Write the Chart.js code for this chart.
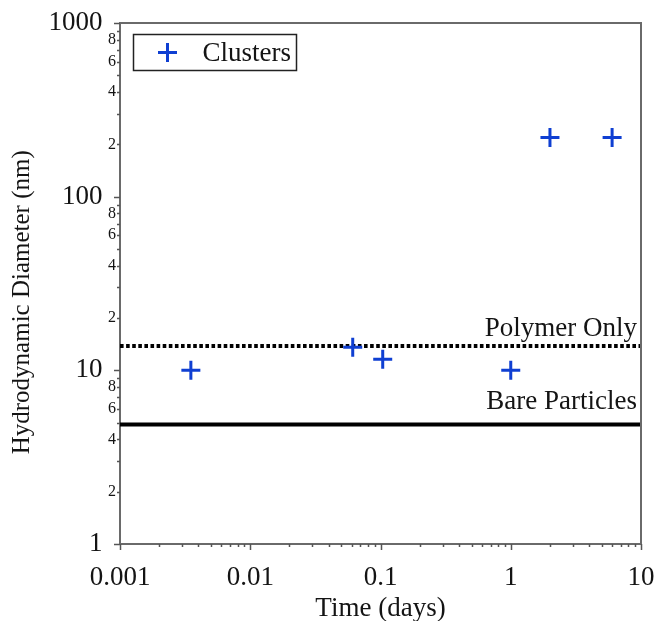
<!DOCTYPE html>
<html><head><meta charset="utf-8">
<script src="https://cdn.jsdelivr.net/npm/chart.js@4.4.0/dist/chart.umd.min.js"></script>
<style>html,body{margin:0;padding:0;background:#fff}#wrap{width:656px;height:621px}</style>
</head><body><div id="wrap"><canvas id="c" width="656" height="621"></canvas></div>
<script>
// ---- data ----
const seriesName = 'Clusters';
const timeDays = [0.0035, 0.0612, 0.104, 1.0, 2.0, 6.0];
const diameterNm = [10, 13.6, 11.6, 10, 219, 219];
const refLabels = ['Polymer Only', 'Bare Particles'];
const refValues = [13.8, 4.87];
const xRange = [0.001, 10];
const yRange = [1, 1000];
const xMajorTicks = [0.001, 0.01, 0.1, 1, 10];
const yMajorTicks = [1, 10, 100, 1000];
const yMinorLabelled = [2, 4, 6, 8];

const SERIF = "'Liberation Serif', 'Times New Roman', serif";
const BLUE = '#0f3fd2';
const TXT = '#141414';
const AXIS = '#6a6a6a';

function logTicks(min, max) {
  const out = [];
  for (let e = Math.round(Math.log10(min)); e <= Math.round(Math.log10(max)); e++) {
    for (let m = 1; m <= 9; m++) {
      const v = Number((m * Math.pow(10, e)).toPrecision(6));
      if (v >= min - 1e-12 && v <= max + 1e-12) out.push({value: v, mant: m});
    }
  }
  return out;
}
const mantissa = v => Math.round(v / Math.pow(10, Math.floor(Math.log10(v) + 1e-9)));
const isMajor = v => mantissa(v) === 1;

const refLinePlugin = {
  id: 'extras',
  afterDraw(chart) {
    const ctx = chart.ctx, a = chart.chartArea;
    const xs = chart.scales.x, ys = chart.scales.y;
    ctx.save();
    // frame top/right
    ctx.strokeStyle = AXIS; ctx.lineWidth = 2;
    ctx.beginPath();
    ctx.moveTo(a.left, a.top); ctx.lineTo(a.right, a.top); ctx.lineTo(a.right, a.bottom);
    ctx.stroke();
    // tick marks
    ctx.strokeStyle = '#555'; ctx.lineWidth = 1.5;
    ctx.beginPath();
    ys.ticks.forEach(t => {
      const p = Math.round(ys.getPixelForValue(t.value)) + 0.5;
      const len = isMajor(t.value) ? 6 : 3;
      ctx.moveTo(a.left - len, p); ctx.lineTo(a.left, p);
    });
    xs.ticks.forEach(t => {
      const p = Math.round(xs.getPixelForValue(t.value)) + 0.5;
      const len = isMajor(t.value) ? 6 : 3;
      ctx.moveTo(p, a.bottom); ctx.lineTo(p, a.bottom + len);
    });
    ctx.stroke();
    // reference line labels
    ctx.fillStyle = TXT;
    ctx.font = '27px ' + SERIF;
    ctx.textAlign = 'right';
    ctx.textBaseline = 'alphabetic';
    const offs = [10, 16];
    refLabels.forEach((lab, i) => {
      ctx.fillText(lab, a.right - 4, ys.getPixelForValue(refValues[i]) - offs[i]);
    });
    // legend
    const bx = a.left + 13.5, by = a.top + 11.5, bw = 163, bh = 36;
    ctx.strokeStyle = '#222'; ctx.lineWidth = 1.5;
    ctx.strokeRect(bx, by, bw, bh);
    const ds = chart.data.datasets[0];
    ctx.strokeStyle = ds.borderColor; ctx.fillStyle = ds.borderColor;
    ctx.lineWidth = 3;
    Chart.helpers.drawPoint(ctx, {pointStyle: 'cross', radius: 9.5, rotation: 0, borderWidth: 3}, bx + 34, by + bh / 2);
    ctx.fillStyle = TXT;
    ctx.textAlign = 'left'; ctx.textBaseline = 'middle';
    ctx.fillText(ds.label, bx + 69, by + bh / 2 + 1);
    ctx.restore();
  }
};

new Chart(document.getElementById('c'), {
  data: {
    datasets: [
      {
        type: 'scatter', label: seriesName,
        data: timeDays.map((t, i) => ({x: t, y: diameterNm[i]})),
        pointStyle: 'cross', pointRadius: 9.5, pointBorderWidth: 3,
        borderColor: BLUE, backgroundColor: BLUE
      },
      {
        type: 'line', label: refLabels[0],
        data: xRange.map(x => ({x, y: refValues[0]})),
        borderColor: '#000', borderWidth: 4, borderDash: [3.6, 2.5], pointRadius: 0, fill: false
      },
      {
        type: 'line', label: refLabels[1],
        data: xRange.map(x => ({x, y: refValues[1]})),
        borderColor: '#000', borderWidth: 4, pointRadius: 0, fill: false
      }
    ]
  },
  options: {
    responsive: false, animation: false, events: [],
    layout: {padding: {left: 0, right: 15, top: 23, bottom: 0}},
    plugins: {legend: {display: false}, tooltip: {enabled: false}},
    scales: {
      x: {
        type: 'logarithmic', position: 'bottom', min: xRange[0], max: xRange[1],
        grid: {display: false, drawTicks: false},
        border: {display: true, color: AXIS, width: 2},
        afterBuildTicks: s => { s.ticks = logTicks(xRange[0], xRange[1]).map(t => ({value: t.value})); },
        afterFit: s => { s.height = 77; s.paddingRight = 0; s.paddingLeft = 0; },
        ticks: {
          autoSkip: false, maxRotation: 0, minRotation: 0, padding: 18, color: TXT,
          font: {family: SERIF, size: 27},
          callback: v => xMajorTicks.some(m => Math.abs(m - v) < m * 1e-6) ? String(v) : ''
        },
        title: {display: true, text: 'Time (days)', color: TXT, font: {family: SERIF, size: 27}, padding: {top: 0, bottom: -4}}
      },
      y: {
        type: 'logarithmic', position: 'left', min: yRange[0], max: yRange[1],
        grid: {display: false, drawTicks: false},
        border: {display: true, color: AXIS, width: 2},
        afterBuildTicks: s => { s.ticks = logTicks(yRange[0], yRange[1]).map(t => ({value: t.value})); },
        afterFit: s => { s.width = 120; },
        ticks: {
          autoSkip: false, padding: 4, color: TXT,
          font: c => (c.tick && isMajor(c.tick.value)) ? {family: SERIF, size: 27} : {family: SERIF, size: 16},
          callback: v => {
            if (yMajorTicks.some(m => Math.abs(m - v) < 1e-6)) return String(v) + '\u2002';
            const m = mantissa(v);
            return yMinorLabelled.includes(m) ? String(m) : '';
          }
        },
        title: {display: true, text: 'Hydrodynamic Diameter (nm)\u2002\u2002\u2002', color: TXT, font: {family: SERIF, size: 25}, padding: {top: 7, bottom: 0}}
      }
    }
  },
  plugins: [refLinePlugin]
});
</script>
</body></html>
